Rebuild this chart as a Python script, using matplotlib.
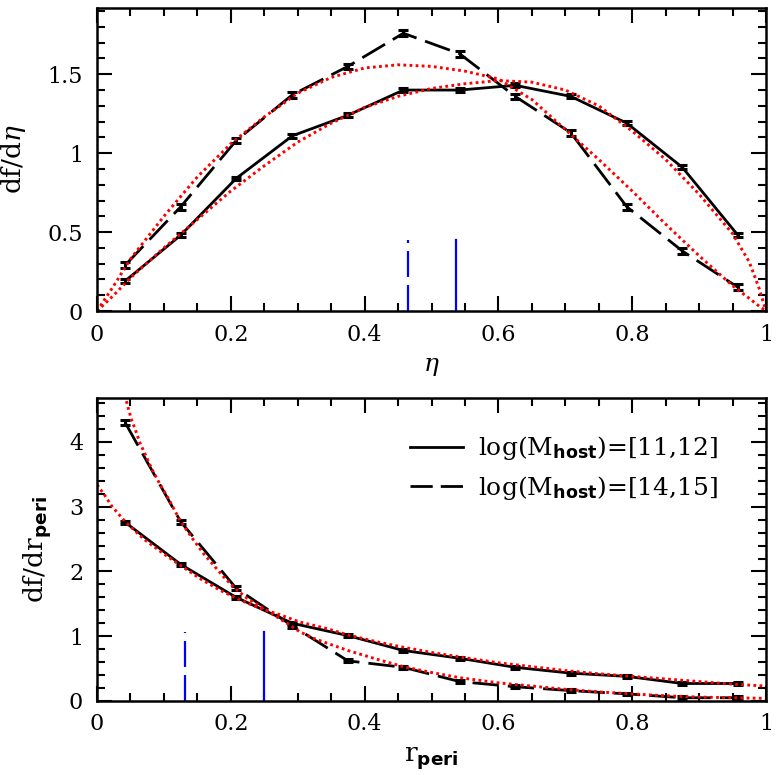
import matplotlib
matplotlib.use('Agg')
import matplotlib.pyplot as plt
from matplotlib.ticker import MultipleLocator, FuncFormatter
from matplotlib.lines import Line2D

plt.rcParams['font.family'] = 'DejaVu Serif'
plt.rcParams['mathtext.fontset'] = 'custom'
plt.rcParams['mathtext.rm'] = 'DejaVu Serif'
plt.rcParams['mathtext.it'] = 'DejaVu Serif:italic'
plt.rcParams['mathtext.bf'] = 'DejaVu Sans:bold'
plt.rcParams['lines.scale_dashes'] = False

# bin centres (12 bins)
x_bins = [0.042, 0.125, 0.208, 0.292, 0.375, 0.458, 0.542, 0.625, 0.708, 0.792, 0.875, 0.958]

# top panel: df/d(eta)
eta_low = [0.19, 0.48, 0.84, 1.11, 1.24, 1.40, 1.40, 1.43, 1.36, 1.19, 0.91, 0.48]
eta_low_err = [0.012] * 12
eta_high = [0.29, 0.66, 1.08, 1.37, 1.55, 1.76, 1.63, 1.36, 1.13, 0.66, 0.38, 0.15]
eta_high_err = [0.018] * 12

# fitted curves
fit_eta_x = [0.0, 0.025, 0.05, 0.1, 0.15, 0.2, 0.25, 0.3, 0.35, 0.4, 0.45, 0.5,
             0.55, 0.6, 0.65, 0.7, 0.75, 0.8, 0.85, 0.9, 0.95, 0.975, 0.99, 1.0]
fit_eta_low = [0.0, 0.10, 0.21, 0.40, 0.58, 0.76, 0.92, 1.07, 1.19, 1.29, 1.36, 1.41,
               1.44, 1.46, 1.45, 1.40, 1.30, 1.14, 0.96, 0.74, 0.49, 0.31, 0.14, 0.0]
fit_eta_high = [0.0, 0.16, 0.33, 0.60, 0.85, 1.06, 1.23, 1.38, 1.48, 1.54, 1.56, 1.55,
                1.52, 1.47, 1.34, 1.15, 0.96, 0.76, 0.55, 0.35, 0.16, 0.08, 0.03, 0.0]

# bottom panel: df/d(r_peri)
r_low = [2.76, 2.11, 1.60, 1.20, 1.01, 0.78, 0.66, 0.52, 0.43, 0.38, 0.27, 0.27]
r_low_err = [0.025] * 12
r_high = [4.30, 2.77, 1.74, 1.16, 0.62, 0.52, 0.30, 0.22, 0.16, 0.11, 0.05, 0.05]
r_high_err = [0.04, 0.03, 0.03, 0.03, 0.025, 0.025, 0.02, 0.02, 0.02, 0.02, 0.02, 0.02]

fit_r_low_x = [0.0, 0.012, 0.022, 0.032, 0.043, 0.07, 0.1, 0.124, 0.154, 0.184, 0.214,
               0.244, 0.274, 0.303, 0.343, 0.375, 0.42, 0.458, 0.5, 0.542, 0.6, 0.65,
               0.7, 0.75, 0.8, 0.85, 0.9, 0.95, 1.0]
fit_r_low = [3.34, 3.17, 3.01, 2.89, 2.76, 2.50, 2.27, 2.10, 1.89, 1.71, 1.56,
             1.43, 1.33, 1.22, 1.12, 1.02, 0.91, 0.83, 0.75, 0.68, 0.59, 0.53,
             0.47, 0.42, 0.38, 0.34, 0.30, 0.26, 0.23]
fit_r_high_x = [0.036, 0.043, 0.047, 0.052, 0.057, 0.064, 0.072, 0.082, 0.094, 0.107,
                0.124, 0.144, 0.159, 0.174, 0.189, 0.206, 0.224, 0.244, 0.264, 0.284,
                0.303, 0.323, 0.35, 0.375, 0.42, 0.458, 0.5, 0.542, 0.6, 0.65, 0.7,
                0.75, 0.8, 0.85, 0.9, 0.95, 1.0]
fit_r_high = [5.0, 4.67, 4.51, 4.33, 4.20, 3.99, 3.81, 3.58, 3.35, 3.12,
              2.79, 2.49, 2.28, 2.10, 1.92, 1.74, 1.59, 1.46, 1.33, 1.20,
              1.07, 0.97, 0.87, 0.78, 0.64, 0.53, 0.44, 0.36, 0.28, 0.23, 0.18,
              0.14, 0.11, 0.08, 0.06, 0.05, 0.04]

# medians shown as blue ticks
eta_median_low, eta_median_high = 0.537, 0.465
r_median_low, r_median_high = 0.249, 0.1315

labels = [r'log(M$_{\mathbf{host}}$)=[11,12]', r'log(M$_{\mathbf{host}}$)=[14,15]']

DASH = (19, 6.5)
DOT = (2.0, 2.4)
BLUE_DASH = (18.7, 5.8)


def fmt(v, pos):
    return '%g' % round(v, 3)


def style_axis(ax, ymin_step, ymaj_step, ytop):
    ax.set_xlim(0, 1)
    ax.set_ylim(0, ytop)
    ax.xaxis.set_major_locator(MultipleLocator(0.2))
    ax.xaxis.set_minor_locator(MultipleLocator(0.05))
    ax.yaxis.set_major_locator(MultipleLocator(ymaj_step))
    ax.yaxis.set_minor_locator(MultipleLocator(ymin_step))
    ax.xaxis.set_major_formatter(FuncFormatter(fmt))
    ax.yaxis.set_major_formatter(FuncFormatter(fmt))
    ax.tick_params(which='both', direction='in', top=True, right=True, width=1.5,
                   labelsize=16)
    ax.tick_params(which='major', length=11)
    ax.tick_params(which='minor', length=5.5)
    ax.tick_params(axis='x', pad=9)
    ax.tick_params(axis='y', pad=10)
    for sp in ax.spines.values():
        sp.set_linewidth(1.8)


def draw_panel(ax, y1, e1, y2, e2, fx1, fy1, fx2, fy2, m1, m2, mtop):
    ax.plot(x_bins, y1, color='black', lw=2.0, solid_capstyle='butt')
    ax.errorbar(x_bins, y1, yerr=e1, fmt='none', ecolor='black', elinewidth=2.2,
                capsize=3.8, capthick=2.2)
    ax.plot(x_bins, y2, color='black', lw=2.0, dashes=DASH)
    ax.errorbar(x_bins, y2, yerr=e2, fmt='none', ecolor='black', elinewidth=2.2,
                capsize=3.8, capthick=2.2)
    ax.plot(fx1, fy1, color='#ff0000', lw=2.1, dashes=DOT)
    ax.plot(fx2, fy2, color='#ff0000', lw=2.1, dashes=DOT)
    ax.plot([m1, m1], [0, mtop], color='#0000ff', lw=1.6)
    ax.plot([m2, m2], [0, mtop], color='#0000ff', lw=1.6, dashes=BLUE_DASH)


fig = plt.figure(figsize=(7.78, 7.75), dpi=100)
ax1 = fig.add_axes([0.1247, 0.5987, 0.8599, 0.3910])
ax2 = fig.add_axes([0.1247, 0.0955, 0.8599, 0.3910])

draw_panel(ax1, eta_low, eta_low_err, eta_high, eta_high_err,
           fit_eta_x, fit_eta_low, fit_eta_x, fit_eta_high,
           eta_median_low, eta_median_high, 0.45)
style_axis(ax1, 0.1, 0.5, 1.92)
ax1.set_xlabel(r'$\eta$', fontsize=18)
ax1.xaxis.set_label_coords(0.5, -0.145)
ax1.set_ylabel(r'df/d$\eta$', fontsize=19)
ax1.yaxis.set_label_coords(-0.103, 0.5)

draw_panel(ax2, r_low, r_low_err, r_high, r_high_err,
           fit_r_low_x, fit_r_low, fit_r_high_x, fit_r_high,
           r_median_low, r_median_high, 1.07)
style_axis(ax2, 0.2, 1, 4.68)
ax2.set_xlabel(r'r$_{\mathbf{peri}}$', fontsize=19)
ax2.xaxis.set_label_coords(0.5, -0.145)
ax2.set_ylabel(r'df/dr$_{\mathbf{peri}}$', fontsize=19)
ax2.yaxis.set_label_coords(-0.066, 0.5)

handles = [Line2D([], [], color='black', lw=2.0),
           Line2D([], [], color='black', lw=2.0, dashes=(16, 5.8))]
ax2.legend(handles, labels, loc='upper left', bbox_to_anchor=(0.468, 0.88),
           frameon=False, fontsize=18, handlelength=2.1, handletextpad=0.6,
           labelspacing=0.45, borderpad=0, borderaxespad=0)

fig.savefig('out.png', dpi=100)
